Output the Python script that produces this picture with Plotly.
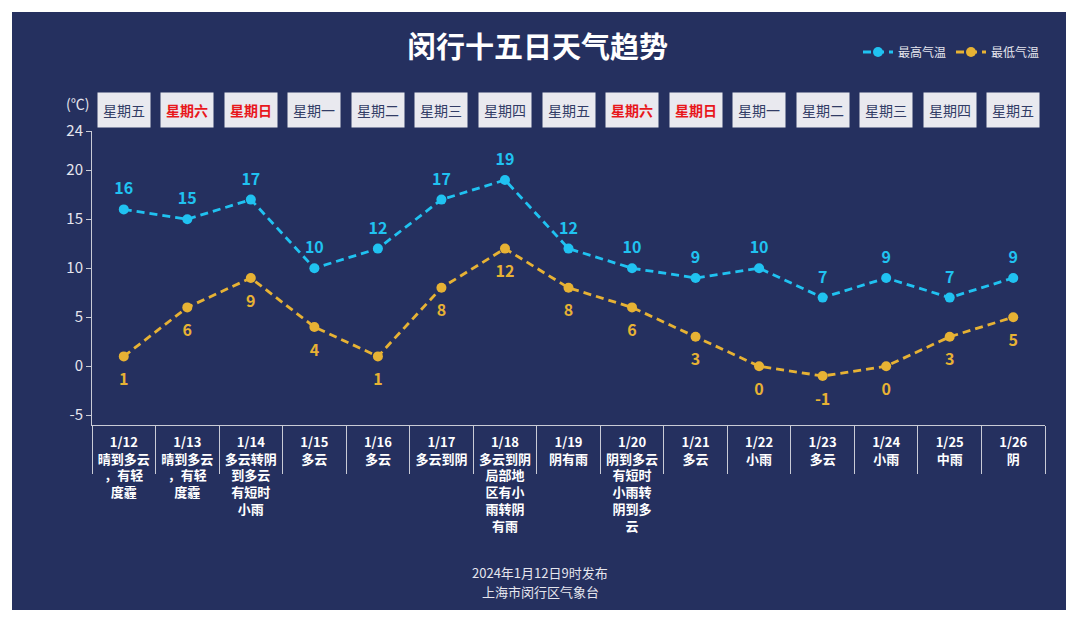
import plotly.graph_objects as go

dates = ["1/12", "1/13", "1/14", "1/15", "1/16", "1/17", "1/18", "1/19",
         "1/20", "1/21", "1/22", "1/23", "1/24", "1/25", "1/26"]
weekdays = ["星期五", "星期六", "星期日", "星期一", "星期二", "星期三", "星期四", "星期五",
            "星期六", "星期日", "星期一", "星期二", "星期三", "星期四", "星期五"]
weather = ["晴到多云，有轻度霾", "晴到多云，有轻度霾", "多云转阴到多云有短时小雨", "多云", "多云",
           "多云到阴", "多云到阴局部地区有小雨转阴有雨", "阴有雨", "阴到多云有短时小雨转阴到多云",
           "多云", "小雨", "多云", "小雨", "中雨", "阴"]
t_max = [16, 15, 17, 10, 12, 17, 19, 12, 10, 9, 10, 7, 9, 7, 9]
t_min = [1, 6, 9, 4, 1, 8, 12, 8, 6, 3, 0, -1, 0, 3, 5]
y_ticks = [-5, 0, 5, 10, 15, 20, 24]

BG = "#25305f"
CYAN = "#20c2f1"
ORANGE = "#e7b234"
FONT = "Noto Sans CJK SC"

# page body has an 8px margin, so the figure is drawn 8px smaller and
# all reference pixel positions are shifted by OFF
OFF = 8
W, H = 1080 - OFF, 623 - OFF
L, R, T, B = 92 - OFF, 35, 131 - OFF, 198
pw, ph = W - L - R, H - T - B


def px_x(x):
    return (x - OFF - L) / pw


def px_y(y):
    return (H - B - (y - OFF)) / ph


def wrap(s):
    # first line 4 chars, then 3 per line (like the source chart)
    lines = [s[:4]]
    rest = s[4:]
    while rest:
        lines.append(rest[:3])
        rest = rest[3:]
    return "<br>".join(lines)


x = list(range(len(dates)))
ticktext = [d + "<br>" + wrap(w) for d, w in zip(dates, weather)]

fig = go.Figure()
for name, vals, color, pos, gap in [("最高气温", t_max, CYAN, "top center", 16),
                                    ("最低气温", t_min, ORANGE, "bottom center", 25)]:
    fig.add_trace(go.Scatter(
        x=x, y=vals, name=name, mode="lines+markers",
        line=dict(color=color, width=2.8, dash="8px,5px"),
        marker=dict(size=10, color=color),
    ))
    # value labels (invisible bigger markers only to push the text away)
    fig.add_trace(go.Scatter(
        x=x, y=vals, mode="markers+text", showlegend=False, hoverinfo="skip",
        marker=dict(size=gap, opacity=0),
        text=[str(v) for v in vals], textposition=pos,
        textfont=dict(color=color, size=16, family=FONT, weight="bold"),
    ))

# dark panel with white frame
fig.add_shape(type="rect", xref="paper", yref="paper", layer="below",
              x0=px_x(12), x1=px_x(1066), y0=px_y(610), y1=px_y(12),
              fillcolor=BG, line=dict(width=0))

# weekday boxes
for i, d in enumerate(weekdays):
    red = d in ("星期六", "星期日")
    fig.add_annotation(
        x=i, xref="x", y=px_y(110), yref="paper", yanchor="middle", text=d, showarrow=False,
        font=dict(size=14, family=FONT, color="#e8171c" if red else "#323c66",
                  weight="bold" if red else "normal"),
        bgcolor="#e9e9ef", width=46, height=28, borderpad=3,
    )

fig.add_annotation(x=px_x(91), y=px_y(103), xref="paper", yref="paper",
                   xanchor="right", yanchor="middle", text="(℃)", showarrow=False,
                   font=dict(size=14, family=FONT, color="#e6e6ee"))
fig.add_annotation(x=px_x(537), y=px_y(45), xref="paper", yref="paper",
                   xanchor="center", yanchor="middle",
                   text="闵行十五日天气趋势", showarrow=False,
                   font=dict(size=29, family=FONT, color="white", weight="bold"))
fig.add_annotation(x=px_x(540), y=px_y(572), xref="paper", yref="paper",
                   xanchor="center", yanchor="middle",
                   text="2024年1月12日9时发布", showarrow=False,
                   font=dict(size=13, family=FONT, color="#e6e6ee"))
fig.add_annotation(x=px_x(540), y=px_y(591), xref="paper", yref="paper",
                   xanchor="center", yanchor="middle",
                   text="上海市闵行区气象台", showarrow=False,
                   font=dict(size=13, family=FONT, color="#e6e6ee"))

fig.update_layout(
    width=W, height=H,
    margin=dict(l=L, r=R, t=T, b=B),
    paper_bgcolor="white", plot_bgcolor=BG,
    font=dict(family=FONT, color="#e6e6ee"),
    showlegend=True,
    legend=dict(orientation="h", x=px_x(858), y=px_y(52), xanchor="left", yanchor="middle",
                font=dict(size=12, color="#e6e6ee"), bgcolor="rgba(0,0,0,0)",
                itemwidth=30),
)
fig.update_xaxes(
    range=[-0.5, len(dates) - 0.5], tickmode="array", tickvals=x, ticktext=ticktext,
    ticks="", showgrid=False, zeroline=False, automargin=False,
    showline=True, linecolor="#c9cbd6", linewidth=1, ticklabelstandoff=5,
    tickfont=dict(size=13, family=FONT, color="white", weight="bold"),
    minor=dict(tickmode="array", tickvals=[i - 0.5 for i in range(len(dates) + 1)],
               ticks="outside", ticklen=48, tickcolor="#c9cbd6", tickwidth=1, showgrid=False),
)
fig.update_yaxes(
    range=[-6, 24], tickmode="array", tickvals=y_ticks, ticktext=[str(v) for v in y_ticks],
    ticks="outside", ticklen=5, tickcolor="#c9cbd6", showgrid=False, zeroline=False,
    showline=True, linecolor="#c9cbd6", linewidth=1, automargin=False,
    tickfont=dict(size=15, family=FONT, color="#e6e6ee"),
)

fig.write_html("out.html")
